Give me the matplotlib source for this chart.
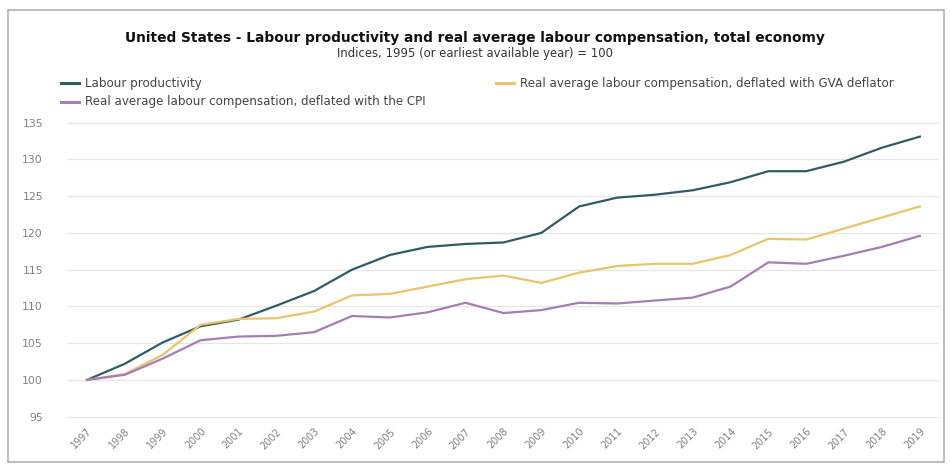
import matplotlib
matplotlib.use("Agg")
import matplotlib.pyplot as plt
from matplotlib.patches import Rectangle
from matplotlib.lines import Line2D

years = list(range(1997, 2020))
labour_productivity = [100.0, 102.2, 105.1, 107.3, 108.2, 110.1, 112.1, 115.0, 117.0, 118.1, 118.5, 118.7, 120.0,
                       123.6, 124.8, 125.2, 125.8, 126.9, 128.4, 128.4, 129.7, 131.6, 133.1]
comp_gva = [100.0, 100.8, 103.4, 107.5, 108.3, 108.4, 109.3, 111.5, 111.7, 112.7, 113.7, 114.2, 113.2,
            114.6, 115.5, 115.8, 115.8, 117.0, 119.2, 119.1, 120.6, 122.1, 123.6]
comp_cpi = [100.0, 100.7, 102.9, 105.4, 105.9, 106.0, 106.5, 108.7, 108.5, 109.2, 110.5, 109.1, 109.5,
            110.5, 110.4, 110.8, 111.2, 112.7, 116.0, 115.8, 116.9, 118.1, 119.6]
series_names = ["Labour productivity",
                "Real average labour compensation, deflated with GVA deflator",
                "Real average labour compensation, deflated with the CPI"]
yticks = [95, 100, 105, 110, 115, 120, 125, 130, 135]

c_lp = "#2f5c66"
c_gva = "#e9c46a"
c_cpi = "#a67db3"

W, H = 950, 470
fig = plt.figure(figsize=(9.5, 4.7), dpi=100)
fig.patch.set_facecolor("white")

# outer frame
fig.patches.append(Rectangle((8 / W, 8 / H), 936 / W, 452 / H, transform=fig.transFigure,
                             fill=False, edgecolor="#b0b0b0", linewidth=1.2))

ax = fig.add_axes([68 / W, (H - 416.7) / H, (938 - 68) / W, (416.7 - 119.0) / H])
ax.plot(years, labour_productivity, color=c_lp, lw=1.6)
ax.plot(years, comp_gva, color=c_gva, lw=1.6)
ax.plot(years, comp_cpi, color=c_cpi, lw=1.6)

ax.set_xlim(1996.5, 2019.48)
ax.set_ylim(95, 135.5)
ax.set_yticks(yticks)
ax.set_xticks(years)
ax.set_xticklabels([str(y) for y in years], rotation=45, ha="right", va="top",
                   rotation_mode="anchor", fontsize=7, color="#808080")
ax.tick_params(axis="x", length=0, pad=7)
ax.tick_params(axis="y", length=0, pad=18, labelsize=7.8, labelcolor="#808080")
ax.grid(axis="y", color="#e6e6e6", lw=0.9, clip_on=False)
for gl in ax.get_ygridlines():
    gl.set_clip_on(False)
ax.set_axisbelow(True)
for s in ax.spines.values():
    s.set_visible(False)

fig.text(0.5, (H - 38) / H, "United States - Labour productivity and real average labour compensation, total economy",
         ha="center", va="center", fontsize=9.9, fontweight="bold", color="#111111")
fig.text(0.5, (H - 53) / H, "Indices, 1995 (or earliest available year) = 100",
         ha="center", va="center", fontsize=8.4, color="#333333")

# legend
def leg(x0, y, color, label):
    fig.lines.append(Line2D([x0 / W, (x0 + 18) / W], [(H - y) / H] * 2, transform=fig.transFigure,
                            color=color, lw=2.2))
    fig.text((x0 + 24) / W, (H - y) / H, label, ha="left", va="center", fontsize=8.6, color="#444444")

leg(61, 83, c_lp, series_names[0])
leg(496, 83, c_gva, series_names[1])
leg(61, 102, c_cpi, series_names[2])

fig.savefig("out.png", dpi=100)
